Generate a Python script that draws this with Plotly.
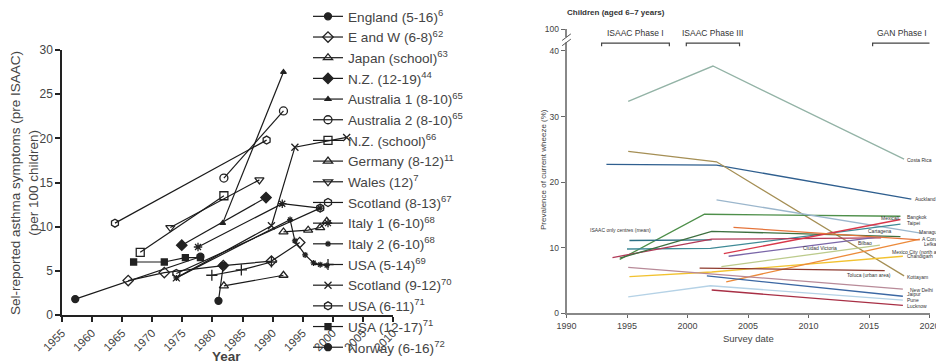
import plotly.graph_objects as go

# ---------------- Left panel data (pre-ISAAC studies) ----------------
left_names = ["England (5-16)", "E and W (6-8)", "Japan (school)", "N.Z. (12-19)",
              "Australia 1 (8-10)", "Australia 2 (8-10)", "N.Z. (school)", "Germany (8-12)",
              "Wales (12)", "Scotland (8-13)", "Italy 1 (6-10)", "Italy 2 (6-10)",
              "USA (5-14)", "Scotland (9-12)", "USA (6-11)", "USA (12-17)", "Norway (6-16)"]
left_refs = ["6", "62", "63", "44", "65", "65", "66", "11", "7", "67", "68", "68",
             "69", "70", "71", "71", "72"]

england_x = [1957.2, 1978.0]
england_y = [1.8, 6.6]
eandw_x = [1966.0, 1972.0, 1981.8, 1989.8, 1994.5]
eandw_y = [3.9, 4.8, 5.6, 6.1, 8.2]
japan_x = [1981.9, 1991.8]
japan_y = [3.3, 4.5]
nz1219_x = [1974.9, 1988.9]
nz1219_y = [7.9, 13.3]
aus1_x = [1981.7, 1991.8]
aus1_y = [10.4, 27.5]
aus2_x = [1981.9, 1991.8]
aus2_y = [15.5, 23.1]
nzschool_x = [1968.0, 1981.9]
nzschool_y = [7.1, 13.5]
germany_x = [1991.8, 1995.9, 1997.9, 1999.0]
germany_y = [9.4, 9.6, 9.9, 10.6]
wales_x = [1973.0, 1987.8]
wales_y = [9.9, 15.3]
scot813_x = [1963.8, 1989.0]
scot813_y = [10.4, 19.8]
italy1_x = [1977.6, 1991.6, 1997.9]
italy1_y = [7.7, 12.6, 12.1]
italy2_x = [1974.0, 1992.9, 1993.7, 1995.4, 1996.8, 1997.9, 1999.0]
italy2_y = [4.2, 10.8, 8.4, 6.8, 5.9, 5.7, 5.6]
usa514_x = [1979.9, 1984.8, 1989.8]
usa514_y = [4.5, 5.1, 6.0]
scot912_x = [1974.0, 1989.8, 1993.7, 2002.3]
scot912_y = [4.2, 10.1, 19.0, 20.1]
usa611_x = [1974.0, 1997.9]
usa611_y = [4.7, 12.1]
usa1217_x = [1966.9, 1972.0, 1975.5, 1978.0]
usa1217_y = [6.0, 6.0, 6.5, 6.5]
norway_x = [1981.0, 1981.8]
norway_y = [1.6, 5.6]

left_x = [england_x, eandw_x, japan_x, nz1219_x, aus1_x, aus2_x, nzschool_x, germany_x,
          wales_x, scot813_x, italy1_x, italy2_x, usa514_x, scot912_x, usa611_x,
          usa1217_x, norway_x]
left_y = [england_y, eandw_y, japan_y, nz1219_y, aus1_y, aus2_y, nzschool_y, germany_y,
          wales_y, scot813_y, italy1_y, italy2_y, usa514_y, scot912_y, usa611_y,
          usa1217_y, norway_y]
left_symbols = ["circle", "diamond-open", "triangle-up-open", "diamond", "triangle-up",
                "circle-open", "square-open", "triangle-up-open", "triangle-down-open",
                "hexagon-open", "asterisk-open", "asterisk-open", "cross-thin-open",
                "x-thin-open", "hexagon-open", "square", "circle"]
left_sizes = [7, 8, 8, 8, 5, 8, 8, 8, 8, 8, 7, 5, 8, 7, 8, 6, 7]
left_tick_years = [1955, 1960, 1965, 1970, 1975, 1980, 1985, 1990, 1995, 2000, 2005, 2010]
left_tick_vals = [0, 5, 10, 15, 20, 25, 30]

# ---------------- Right panel data (ISAAC / GAN, children 6-7) ----------------
r_costa_x = [1995.1, 2002.1, 2017.9]; r_costa_y = [32.3, 37.7, 23.5]
r_auck_x = [1993.3, 2002.4, 2018.5]; r_auck_y = [22.7, 22.6, 17.4]
r_kott_x = [1995.1, 2002.4, 2017.9]; r_kott_y = [24.7, 23.1, 5.7]
r_bang_x = [1994.4, 2001.4, 2017.6]; r_bang_y = [8.2, 15.1, 14.8]
r_mana_x = [2002.4, 2019.4]; r_mana_y = [17.3, 12.2]
r_taip_x = [1995.0, 2001.9, 2017.6]; r_taip_y = [9.8, 9.9, 13.6]
r_mean_x = [1995.2, 2002.0]; r_mean_y = [11.1, 11.2]
r_cart_x = [1993.8, 2002.0, 2016.0]; r_cart_y = [8.5, 11.3, 11.5]
r_green_x = [1994.4, 2002.0, 2017.6]; r_green_y = [8.4, 12.5, 11.7]
r_mexi_x = [2003.0, 2017.6]; r_mexi_y = [9.1, 14.3]
r_bilb_x = [2003.4, 2016.0]; r_bilb_y = [8.7, 11.7]
r_mxc_x = [2002.8, 2015.9]; r_mxc_y = [7.1, 10.4]
r_chan_x = [1995.2, 2002.0, 2017.8]; r_chan_y = [5.6, 6.3, 8.7]
r_lef_x = [2003.2, 2019.2]; r_lef_y = [4.8, 11.3]
r_coru_x = [2003.8, 2019.2]; r_coru_y = [13.1, 11.2]
r_tolu_x = [2001.0, 2016.3]; r_tolu_y = [6.9, 6.5]
r_delhi_x = [1995.1, 2002.1, 2017.8]; r_delhi_y = [7.0, 6.0, 3.7]
r_jaip_x = [2001.6, 2017.8]; r_jaip_y = [5.7, 2.6]
r_pune_x = [1995.1, 2001.9, 2017.8]; r_pune_y = [2.5, 4.2, 2.0]
r_luck_x = [2002.0, 2017.8]; r_luck_y = [3.55, 1.2]

right_x = [r_costa_x, r_auck_x, r_kott_x, r_bang_x, r_mana_x, r_taip_x, r_mean_x, r_cart_x,
           r_green_x, r_mexi_x, r_bilb_x, r_mxc_x, r_chan_x, r_lef_x, r_coru_x, r_tolu_x,
           r_delhi_x, r_jaip_x, r_pune_x, r_luck_x]
right_y = [r_costa_y, r_auck_y, r_kott_y, r_bang_y, r_mana_y, r_taip_y, r_mean_y, r_cart_y,
           r_green_y, r_mexi_y, r_bilb_y, r_mxc_y, r_chan_y, r_lef_y, r_coru_y, r_tolu_y,
           r_delhi_y, r_jaip_y, r_pune_y, r_luck_y]
right_colors = ["#93b3a6", "#2f5f8f", "#a58f55", "#4e8f4a", "#9bb6cc", "#3f8a96", "#2d6f84",
                "#b03a58", "#3e7040", "#d8384a", "#7a66a8", "#bccb8c", "#f2c230", "#ec8a3a",
                "#e5743a", "#8e3a2e", "#b88a98", "#3b67a3", "#b5d2e6", "#a82f45"]

# centre labels (text placement in data units, anchor)
label_text = ["Costa Rica", "Auckland", "Bangkok", "Taipei", "Managua", "Mexicali",
              "A Coruña", "Lefkalis", "Cartagena", "Bilbao", "Ciudad Victoria",
              "Mexico City (north area)", "Chandigarh", "Toluca (urban area)", "Kottayam",
              "New Delhi", "Jaipur", "Pune", "Lucknow", "ISAAC only centres (mean)"]
label_px = [2018.0, 2018.6, 2018.0, 2018.0, 2019.0, 2016.7, 2019.2, 2019.4, 2015.9, 2014.7,
            2012.5, 2016.7, 2018.0, 2017.0, 2018.0, 2018.2, 2018.0, 2018.0, 2018.0, 1994.5]
label_py = [23.4, 17.4, 14.7, 13.7, 12.4, 14.6, 11.4, 10.6, 12.6, 10.7,
            10.0, 9.4, 8.7, 5.9, 5.5, 3.55, 2.9, 2.1, 1.1, 12.7]
label_anchor = ["left", "left", "left", "left", "left", "center", "left", "left", "center",
                "center", "right", "left", "left", "right", "left", "left", "left", "left",
                "left", "center"]

right_ticks = [1990, 1995, 2000, 2005, 2010, 2015, 2020]
right_yticks = [0, 10, 20, 30, 40]
right_top_value = 43.3
right_top_label = "100"

phase_names = ["ISAAC Phase I", "ISAAC Phase III", "GAN Phase I"]
phase_start = [1992.9, 1999.9, 2015.3]
phase_end = [1998.5, 2004.3, 2020.2]
phase_level = 41.2

W, H = 936, 364
LFONT = "Liberation Sans, Arial, sans-serif"
RFONT = "Liberation Sans Narrow, Liberation Sans, Arial, sans-serif"

fig = go.Figure()

for i, name in enumerate(left_names):
    fig.add_trace(go.Scatter(
        x=left_x[i], y=left_y[i], mode="lines+markers",
        name=f"{name}<sup>{left_refs[i]}</sup>",
        line=dict(color="#1a1a1a", width=1.2),
        marker=dict(symbol=left_symbols[i], size=left_sizes[i], color="#222222",
                    line=dict(color="#222222", width=1.3)),
        xaxis="x", yaxis="y", cliponaxis=False,
    ))

for i in range(len(right_x)):
    fig.add_trace(go.Scatter(
        x=right_x[i], y=right_y[i], mode="lines", showlegend=False,
        line=dict(color=right_colors[i], width=1.3),
        xaxis="x2", yaxis="y2", hoverinfo="skip",
    ))

for t, px, py, anc in zip(label_text, label_px, label_py, label_anchor):
    fig.add_annotation(x=px, y=py, xref="x2", yref="y2",
                       text=t, showarrow=False, xanchor=anc, yanchor="middle",
                       font=dict(size=5, color="#333", family=RFONT))

# phase brackets
for name, s, e in zip(phase_names, phase_start, phase_end):
    fig.add_shape(type="path", xref="x2", yref="y2",
                  path=f"M {s},{phase_level - 0.5} L {s},{phase_level} L {e},{phase_level} L {e},{phase_level - 0.5}",
                  line=dict(color="#444", width=1.2))
    fig.add_annotation(x=(s + e) / 2, y=phase_level + 0.5, xref="x2", yref="y2",
                       text=name, showarrow=False, xanchor="center", yanchor="bottom",
                       font=dict(size=8.5, color="#333", family=RFONT))

# axis break on right y-axis
fig.add_shape(type="rect", xref="x2 domain", yref="y2", x0=-0.01, x1=0.01,
              y0=41.3, y1=42.1, fillcolor="white", line=dict(width=0))
for yb in [41.3, 42.1]:
    fig.add_shape(type="line", xref="x2 domain", yref="y2", x0=-0.012, x1=0.012,
                  y0=yb - 0.5, y1=yb + 0.5, line=dict(color="#555", width=1))

fig.add_annotation(x=565 / W, y=1 - 6 / H, xref="paper", yref="paper",
                   text="<b>Children (aged 6–7 years)</b>", showarrow=False,
                   xanchor="left", yanchor="top", font=dict(size=8, color="#333", family=RFONT))

# left axis titles
fig.add_annotation(x=24 / W, y=1 - 183 / H, xref="paper", yref="paper",
                   xanchor="center", yanchor="middle",
                   text="Sel-reported asthma symptoms (pre ISAAC)<br>(per 100 children)",
                   textangle=-90, showarrow=False, font=dict(size=13.5, color="#444", family=LFONT))
fig.add_annotation(x=226 / W, y=1 - 356 / H, xref="paper", yref="paper",
                   xanchor="center", yanchor="middle",
                   text="<b>Year</b>", showarrow=False, font=dict(size=13.5, color="#444", family=LFONT))
# right axis titles
fig.add_annotation(x=543 / W, y=1 - 170 / H, xref="paper", yref="paper",
                   xanchor="center", yanchor="middle",
                   text="Prevalence of current wheeze (%)", textangle=-90, showarrow=False,
                   font=dict(size=8, color="#444", family=RFONT))
fig.add_annotation(x=748 / W, y=1 - 338 / H, xref="paper", yref="paper",
                   xanchor="center", yanchor="middle",
                   text="Survey date", showarrow=False,
                   font=dict(size=9.5, color="#444", family=RFONT))

fig.update_layout(
    width=W, height=H, margin=dict(l=0, r=0, t=0, b=0, autoexpand=False),
    paper_bgcolor="white", plot_bgcolor="white",
    showlegend=True,
    legend=dict(x=308 / W, y=1 - 1 / H, xanchor="left", yanchor="top",
                font=dict(size=13.6, color="#444", family=LFONT),
                bgcolor="rgba(0,0,0,0)", tracegroupgap=0, itemwidth=30),
    xaxis=dict(domain=[62 / W, 393 / W], range=[1955, 2010], showgrid=False, zeroline=False,
               showline=True, linecolor="#222", linewidth=1.5, ticks="outside", ticklen=5,
               tickwidth=1.5, tickcolor="#222", tickvals=left_tick_years, tickangle=-45,
               tickfont=dict(size=11.5, color="#444", family=LFONT), anchor="y",
               ticklabeloverflow="allow"),
    yaxis=dict(domain=[1 - 315 / H, 1 - 50 / H], range=[0, 30], showgrid=False, zeroline=False,
               showline=True, linecolor="#222", linewidth=1.5, ticks="outside", ticklen=5,
               tickwidth=1.5, tickcolor="#222", tickvals=left_tick_vals,
               tickfont=dict(size=12, color="#444", family=LFONT), anchor="x"),
    xaxis2=dict(domain=[566.5 / W, 929.5 / W], range=[1990, 2020], showgrid=False, zeroline=False,
                showline=True, linecolor="#888", linewidth=1.5, ticks="outside", ticklen=3,
                tickwidth=1.2, tickcolor="#666", tickvals=right_ticks,
                tickfont=dict(size=9, color="#444", family=RFONT), anchor="y2",
                ticklabeloverflow="allow"),
    yaxis2=dict(domain=[1 - 313.3 / H, 1 - 29.3 / H], range=[0, right_top_value], showgrid=False,
                zeroline=False, showline=True, linecolor="#888", linewidth=1.5, ticks="outside",
                ticklen=4, tickwidth=1.2, tickcolor="#666",
                tickvals=right_yticks + [right_top_value],
                ticktext=[str(v) for v in right_yticks] + [right_top_label],
                tickfont=dict(size=8.5, color="#444", family=RFONT), anchor="x2"),
)

fig.write_html("out.html", config={"displayModeBar": False},
               post_script="document.body.style.margin='0';document.body.style.overflow='hidden';")
